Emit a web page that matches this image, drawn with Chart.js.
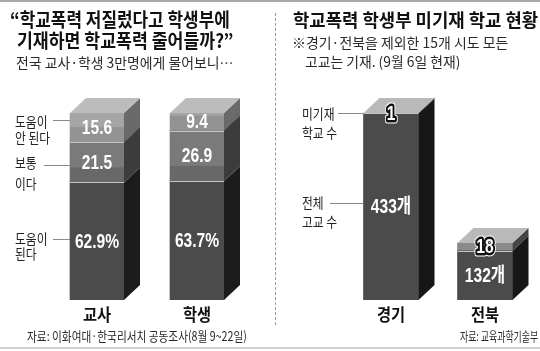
<!DOCTYPE html>
<html>
<head>
<meta charset="utf-8">
<title>학교폭력 학생부 기재</title>
<script src="https://cdn.jsdelivr.net/npm/chart.js"></script>
<style>
  body { margin: 0; background: #fff; }
  #wrap { position: relative; width: 540px; height: 351px; overflow: hidden;
          font-family: "Noto Sans CJK KR", "Noto Sans", sans-serif; color: #111; }
  .t { position: absolute; white-space: nowrap; line-height: 1; transform-origin: 0 0; }
  .b { font-weight: bold; }
  .side { font-size: 14px; color: #222; }
  .ln { position: absolute; height: 1px; background: #8a8a8a; }
  canvas { position: absolute; top: 0; }
  #topline { position: absolute; left: 0; top: 0; width: 540px; height: 2px; background: #a8a8a8; }
  #botline { position: absolute; left: 0; top: 347px; width: 540px; height: 2px; background: #cfcfcf; }
  #divider { position: absolute; left: 275px; top: 13px; height: 312px; width: 0;
             border-left: 1px dashed #9a9a9a; }
</style>
</head>
<body>
<div id="wrap">
  <div id="topline"></div>
  <div id="botline"></div>
  <div id="divider"></div>

  <canvas id="surveyChart" width="270" height="351" style="left:0"></canvas>
  <canvas id="schoolChart" width="270" height="351" style="left:270px"></canvas>

  <!-- left panel text -->
  <div class="t b" data-w="220" style="left:10px;top:9px;font-size:19px">“학교폭력 저질렀다고 학생부에</div>
  <div class="t b" data-w="216" style="left:17px;top:30px;font-size:19px">기재하면 학교폭력 줄어들까?”</div>
  <div class="t" data-w="217" style="left:16px;top:55px;font-size:14px;color:#2a2a2a">전국 교사·학생 3만명에게 물어보니…</div>

  <div class="t side" data-s="0.84" style="left:15px;top:114px">도움이</div>
  <div class="t side" data-s="0.84" style="left:15px;top:130px">안 된다</div>
  <div class="ln" style="left:53px;top:120px;width:17px"></div>
  <div class="t side" data-s="0.84" style="left:15px;top:155px">보통</div>
  <div class="t side" data-s="0.84" style="left:15px;top:176px">이다</div>
  <div class="ln" style="left:44px;top:165px;width:26px"></div>
  <div class="t side" data-s="0.84" style="left:15px;top:231px">도움이</div>
  <div class="t side" data-s="0.84" style="left:15px;top:246px">된다</div>
  <div class="ln" style="left:53px;top:239px;width:17px"></div>

  <div class="t" data-w="220" style="left:27px;top:329px;font-size:13px;color:#2a2a2a">자료: 이화여대·한국리서치 공동조사(8월 9~22일)</div>

  <!-- right panel text -->
  <div class="t b" data-w="245" style="left:293px;top:10px;font-size:18px">학교폭력 학생부 미기재 학교 현황</div>
  <div class="t" data-w="216" style="left:292px;top:35px;font-size:14px;color:#2a2a2a">※경기·전북을 제외한 15개 시도 모든</div>
  <div class="t" data-w="155" style="left:305px;top:54px;font-size:14px;color:#2a2a2a">고교는 기재. (9월 6일 현재)</div>

  <div class="t side" data-s="0.84" style="left:302px;top:106px">미기재</div>
  <div class="t side" data-s="0.84" style="left:302px;top:125px">학교 수</div>
  <div class="ln" style="left:338px;top:113px;width:25px"></div>
  <div class="t side" data-s="0.84" style="left:302px;top:195px">전체</div>
  <div class="t side" data-s="0.84" style="left:302px;top:214px">고교 수</div>
  <div class="ln" style="left:330px;top:203px;width:33px"></div>

  <div class="t" data-w="78" style="left:460px;top:329px;font-size:13px;color:#2a2a2a">자료: 교육과학기술부</div>
</div>

<script type="text/javascript">

    // survey: 학교폭력 학생부 기재 효과 (%)
    var surveyLabels = ['교사', '학생'];
    var helpful = [62.9, 63.7];      // 도움이 된다
    var neutral = [21.5, 26.9];      // 보통이다
    var notHelpful = [15.6, 9.4];    // 도움이 안 된다

    // schools not recording school violence (high schools)
    var schoolLabels = ['경기', '전북'];
    var totalSchools = [433, 132];
    var unrecorded = [1, 18];

    // squeeze html text to the widths of the original layout
    document.querySelectorAll('.t').forEach(function (el) {
        var s = el.dataset.s ? parseFloat(el.dataset.s) : 1;
        if (el.dataset.w) s = parseFloat(el.dataset.w) / el.offsetWidth;
        el.style.transform = 'scaleX(' + s + ')';
    });

    function condensedText(ctx, txt, x, y, font, sx, fill, stroke) {
        ctx.save();
        ctx.translate(x, y);
        ctx.scale(sx, 1);
        ctx.font = font;
        ctx.textAlign = 'center';
        ctx.textBaseline = 'middle';
        if (stroke) {
            ctx.lineJoin = 'round';
            ctx.lineWidth = 7;
            ctx.strokeStyle = '#fff';
            ctx.strokeText(txt, 0, 0);
            ctx.lineWidth = 5;
            ctx.strokeStyle = '#111';
            ctx.strokeText(txt, 0, 0);
        }
        ctx.fillStyle = fill;
        ctx.fillText(txt, 0, 0);
        ctx.restore();
    }

    // draws side and top faces so the stacked bars look like boxes
    var cubePlugin = {
        id: 'cube',
        afterDatasetsDraw: function (chart, args, opts) {
            var ctx = chart.ctx;
            var dx = opts.dx, dy = opts.dy;
            var sets = chart.data.datasets;
            ctx.save();
            sets.forEach(function (ds, di) {
                chart.getDatasetMeta(di).data.forEach(function (bar, i) {
                    var p = bar.getProps(['x', 'y', 'base', 'width'], true);
                    var l = p.x - p.width / 2, r = p.x + p.width / 2;
                    var top = Math.min(p.y, p.base), bot = Math.max(p.y, p.base);
                    // inner floor seen through the front
                    if (ds.band && di > 0) {
                        ctx.fillStyle = ds.band;
                        var h = Math.min(dy, bot - top);
                        ctx.fillRect(l, bot - h, p.width, h);
                    }
                    ctx.fillStyle = ds.side;
                    ctx.beginPath();
                    ctx.moveTo(r, top);
                    ctx.lineTo(r + dx, top - dy);
                    ctx.lineTo(r + dx, bot - dy);
                    ctx.lineTo(r, bot);
                    ctx.closePath();
                    ctx.fill();
                    if (di > 0) {
                        ctx.strokeStyle = opts.edge;
                        ctx.lineWidth = 1;
                        ctx.beginPath();
                        ctx.moveTo(l, Math.round(bot) + 0.5);
                        ctx.lineTo(r, Math.round(bot) + 0.5);
                        ctx.stroke();
                        ctx.strokeStyle = opts.sideEdge;
                        ctx.beginPath();
                        ctx.moveTo(r, bot);
                        ctx.lineTo(r + dx, bot - dy);
                        ctx.stroke();
                    }
                    if (di === sets.length - 1) {
                        ctx.fillStyle = opts.topColor;
                        ctx.beginPath();
                        ctx.moveTo(l, top);
                        ctx.lineTo(l + dx, top - dy);
                        ctx.lineTo(r + dx, top - dy);
                        ctx.lineTo(r, top);
                        ctx.closePath();
                        ctx.fill();
                    }
                });
            });

            // values and category names
            sets.forEach(function (ds, di) {
                chart.getDatasetMeta(di).data.forEach(function (bar, i) {
                    var p = bar.getProps(['x', 'y', 'base'], true);
                    var txt = ds.fmt(ds.data[i], i);
                    condensedText(ctx, txt, p.x, (p.y + p.base) / 2 + 1,
                        'bold 20px "Liberation Sans", Arial, "Noto Sans CJK KR", sans-serif',
                        0.78, '#fff', ds.outline);
                });
            });
            var meta = chart.getDatasetMeta(0);
            chart.data.labels.forEach(function (lab, i) {
                var p = meta.data[i].getProps(['x', 'base'], true);
                condensedText(ctx, lab, p.x, p.base + 15,
                    'bold 17px "Noto Sans CJK KR", sans-serif', 0.9, '#111', false);
            });
            ctx.restore();
        }
    };

    function baseOptions(ymax, pad) {
        return {
            responsive: false,
            animation: false,
            devicePixelRatio: 1,
            layout: { padding: pad },
            plugins: {
                legend: { display: false },
                tooltip: { enabled: false },
                cube: { dx: 16, dy: 15, topColor: '#bcbcbc', edge: '#c4c4c4', sideEdge: '#555' }
            },
            scales: {
                x: { display: false, stacked: true },
                y: { display: false, stacked: true, min: 0, max: ymax }
            }
        };
    }

    window.onload = function () {
        new Chart(document.getElementById('surveyChart').getContext('2d'), {
            type: 'bar',
            data: {
                labels: surveyLabels,
                datasets: [
                    { data: helpful, backgroundColor: '#4b4b4b', side: '#1c1c1c', barThickness: 54,
                      fmt: function (v) { return v + '%'; } },
                    { data: neutral, backgroundColor: '#7a7a7a', band: '#686868', side: '#3c3c3c', barThickness: 54,
                      fmt: function (v) { return String(v); } },
                    { data: notHelpful, backgroundColor: '#a5a5a5', band: '#939393', side: '#6a6a6a', barThickness: 54,
                      fmt: function (v) { return String(v); } }
                ]
            },
            options: baseOptions(100, { left: 47, right: 23, top: 113, bottom: 51 }),
            plugins: [cubePlugin]
        });

        var recorded = totalSchools.map(function (t, i) { return t - unrecorded[i]; });
        var schoolOpts = baseOptions(433, { left: 74, right: 8, top: 113, bottom: 51 });
        schoolOpts.plugins.cube.topColor = '#b9b9b9';
        new Chart(document.getElementById('schoolChart').getContext('2d'), {
            type: 'bar',
            data: {
                labels: schoolLabels,
                datasets: [
                    { data: recorded, backgroundColor: '#4b4b4b', side: '#171717', barThickness: 55,
                      fmt: function (v, i) { return totalSchools[i] + '개'; } },
                    { data: unrecorded, backgroundColor: '#8a8a8a', side: '#444', barThickness: 55,
                      outline: true, fmt: function (v) { return String(v); } }
                ]
            },
            options: schoolOpts,
            plugins: [cubePlugin]
        });
    };

</script>
</body>
</html>
